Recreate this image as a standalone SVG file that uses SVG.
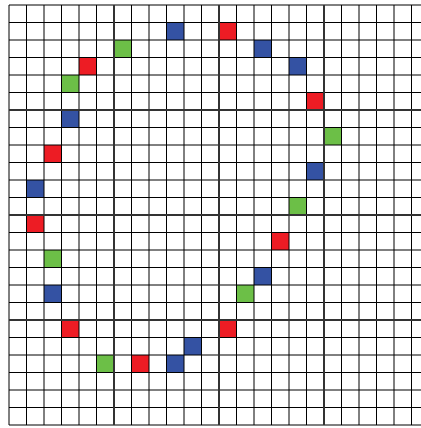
<svg xmlns="http://www.w3.org/2000/svg" width="421" height="428" viewBox="0 0 421 428">
<style>
.r{fill:#ED1C24}
.g{fill:#6CBF47}
.b{fill:#3452A3}
.thin{stroke:#000;stroke-width:1;fill:none}
.thick{stroke:#333;stroke-width:2;fill:none}
</style>
<rect width="421" height="428" fill="#fff"/>
<g id="cells">
<rect class="b" x="166.5" y="22.5" width="17.5" height="17.5"/>
<rect class="r" x="219" y="22.5" width="17.5" height="17.5"/>
<rect class="g" x="114" y="40" width="17.5" height="17.5"/>
<rect class="b" x="254" y="40" width="17.5" height="17.5"/>
<rect class="r" x="79" y="57.5" width="17.5" height="17.5"/>
<rect class="b" x="289" y="57.5" width="17.5" height="17.5"/>
<rect class="g" x="61.5" y="75" width="17.5" height="17.5"/>
<rect class="r" x="306.5" y="92.5" width="17.5" height="17.5"/>
<rect class="b" x="61.5" y="110" width="17.5" height="17.5"/>
<rect class="g" x="324" y="127.5" width="17.5" height="17.5"/>
<rect class="r" x="44" y="145" width="17.5" height="17.5"/>
<rect class="b" x="306.5" y="162.5" width="17.5" height="17.5"/>
<rect class="b" x="26.5" y="180" width="17.5" height="17.5"/>
<rect class="g" x="289" y="197.5" width="17.5" height="17.5"/>
<rect class="r" x="26.5" y="215" width="17.5" height="17.5"/>
<rect class="r" x="271.5" y="232.5" width="17.5" height="17.5"/>
<rect class="g" x="44" y="250" width="17.5" height="17.5"/>
<rect class="b" x="254" y="267.5" width="17.5" height="17.5"/>
<rect class="b" x="44" y="285" width="17.5" height="17.5"/>
<rect class="g" x="236.5" y="285" width="17.5" height="17.5"/>
<rect class="r" x="61.5" y="320" width="17.5" height="17.5"/>
<rect class="r" x="219" y="320" width="17.5" height="17.5"/>
<rect class="b" x="184" y="337.5" width="17.5" height="17.5"/>
<rect class="g" x="96.5" y="355" width="17.5" height="17.5"/>
<rect class="r" x="131.5" y="355" width="17.5" height="17.5"/>
<rect class="b" x="166.5" y="355" width="17.5" height="17.5"/>
</g>
<g id="grid">
<path class="thin" d="M9 5V425M26.5 5V425M44 5V425M61.5 5V425M79 5V425M96.5 5V425M131.5 5V425M149 5V425M166.5 5V425M184 5V425M201.5 5V425M236.5 5V425M254 5V425M271.5 5V425M289 5V425M306.5 5V425M341.5 5V425M359 5V425M376.5 5V425M394 5V425M411.5 5V425
M9 5H429M9 22.5H429M9 40H429M9 57.5H429M9 75H429M9 92.5H429M9 127.5H429M9 145H429M9 162.5H429M9 180H429M9 197.5H429M9 232.5H429M9 250H429M9 267.5H429M9 285H429M9 302.5H429M9 337.5H429M9 355H429M9 372.5H429M9 390H429M9 407.5H429M9 425H429"/>
<path class="thick" d="M114 5V425M219 5V425M324 5V425M9 110H429M9 215H429M9 320H429"/>
</g>
</svg>
